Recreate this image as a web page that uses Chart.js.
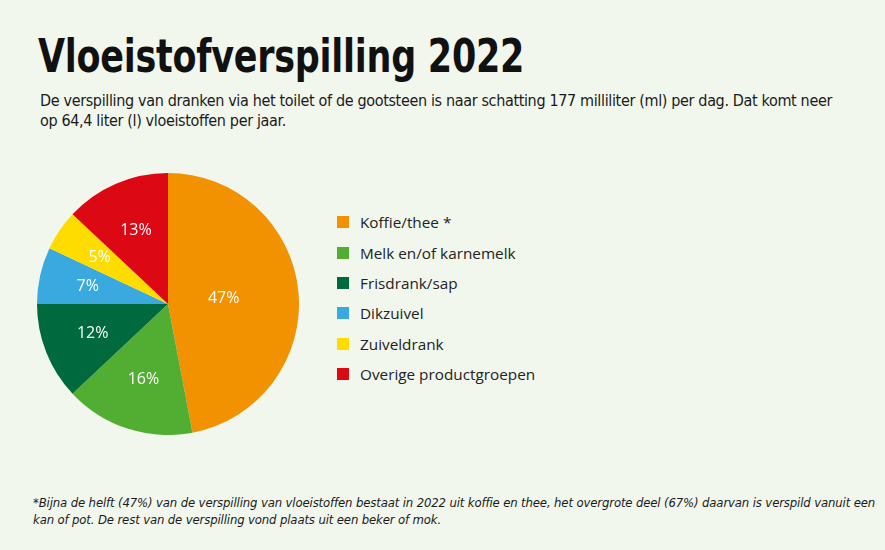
<!DOCTYPE html>
<html>
<head>
<meta charset="utf-8">
<script src="https://cdn.jsdelivr.net/npm/chart.js@4/dist/chart.umd.min.js"></script>
<style>
    html, body { margin: 0; padding: 0; }
    body { width: 885px; height: 550px; background: #f2f7ee; position: relative; overflow: hidden; font-family: 'DejaVu Sans Condensed', 'Roboto', sans-serif; color: #111; }
    h1 { position: absolute; left: 38px; top: 28px; margin: 0; font-size: 46px; font-weight: 700; letter-spacing: -0.3px; line-height: 56px; transform: scaleX(0.845); transform-origin: left top; white-space: nowrap; }
    .intro { position: absolute; left: 40px; top: 91px; width: 805px; margin: 0; font-size: 16px; line-height: 20px; letter-spacing: -0.35px; color: #1a1a1a; }
    .pie-box { position: absolute; left: 37px; top: 173px; width: 262px; height: 262px; }
    #legend { position: absolute; left: 337px; top: 207px; margin: 0; padding: 0; list-style: none; font-family: 'Open Sans', 'Noto Sans', sans-serif; font-size: 15.3px; color: #222; }
    #legend li { height: 30.4px; display: flex; align-items: center; }
    #legend span.box { width: 12px; height: 12px; margin-right: 11px; display: inline-block; }
    .note { position: absolute; left: 33px; top: 494px; width: 850px; margin: 0; font-size: 13px; line-height: 17px; letter-spacing: -0.14px; font-style: italic; color: #1a1a1a; }
</style>
</head>
<body>
<h1>Vloeistofverspilling 2022</h1>
<p class="intro">De verspilling van dranken via het toilet of de gootsteen is naar schatting 177 milliliter (ml) per dag. Dat komt neer op 64,4 liter (l) vloeistoffen per jaar.</p>
<div class="pie-box"><canvas id="pie-chart"></canvas></div>
<ul id="legend"></ul>
<p class="note">*Bijna de helft (47%) van de verspilling van vloeistoffen bestaat in 2022 uit koffie en thee, het overgrote deel (67%) daarvan is verspild vanuit een kan of pot. De rest van de verspilling vond plaats uit een beker of mok.</p>
<script>
const categories = ['Koffie/thee *', 'Melk en/of karnemelk', 'Frisdrank/sap', 'Dikzuivel', 'Zuiveldrank', 'Overige productgroepen'];
const shares = [47, 16, 12, 7, 5, 13];
const sliceColors = ['#f39200', '#52ae32', '#006a3e', '#3aa9e0', '#ffdc00', '#dc0814'];

// percentages on the slices, placed near the centroid of each sector
const sliceLabels = {
    id: 'sliceLabels',
    afterDatasetsDraw(chart) {
        const { ctx } = chart;
        const meta = chart.getDatasetMeta(0);
        ctx.save();
        ctx.fillStyle = '#ffffff';
        ctx.font = '16px "Open Sans", "Noto Sans", sans-serif';
        ctx.textAlign = 'center';
        ctx.textBaseline = 'middle';
        meta.data.forEach((arc, i) => {
            const { x, y, startAngle, endAngle, outerRadius } = arc.getProps(['x', 'y', 'startAngle', 'endAngle', 'outerRadius'], true);
            const half = (endAngle - startAngle) / 2;
            const mid = startAngle + half;
            const d = 0.95 * (2 * outerRadius * Math.sin(half)) / (3 * half);
            ctx.fillText(shares[i] + '%', x + Math.cos(mid) * d, y + Math.sin(mid) * d);
        });
        ctx.restore();
    }
};

new Chart(document.getElementById('pie-chart'), {
    type: 'pie',
    data: {
        labels: categories,
        datasets: [{ data: shares, backgroundColor: sliceColors, borderWidth: 0 }]
    },
    options: {
        responsive: true,
        maintainAspectRatio: false,
        animation: false,
        layout: { padding: 0 },
        plugins: { legend: { display: false }, tooltip: { enabled: false } }
    },
    plugins: [sliceLabels]
});

document.getElementById('legend').innerHTML = categories.map((c, i) =>
    `<li><span class="box" style="background:${sliceColors[i]}"></span>${c}</li>`).join('');
</script>
</body>
</html>
